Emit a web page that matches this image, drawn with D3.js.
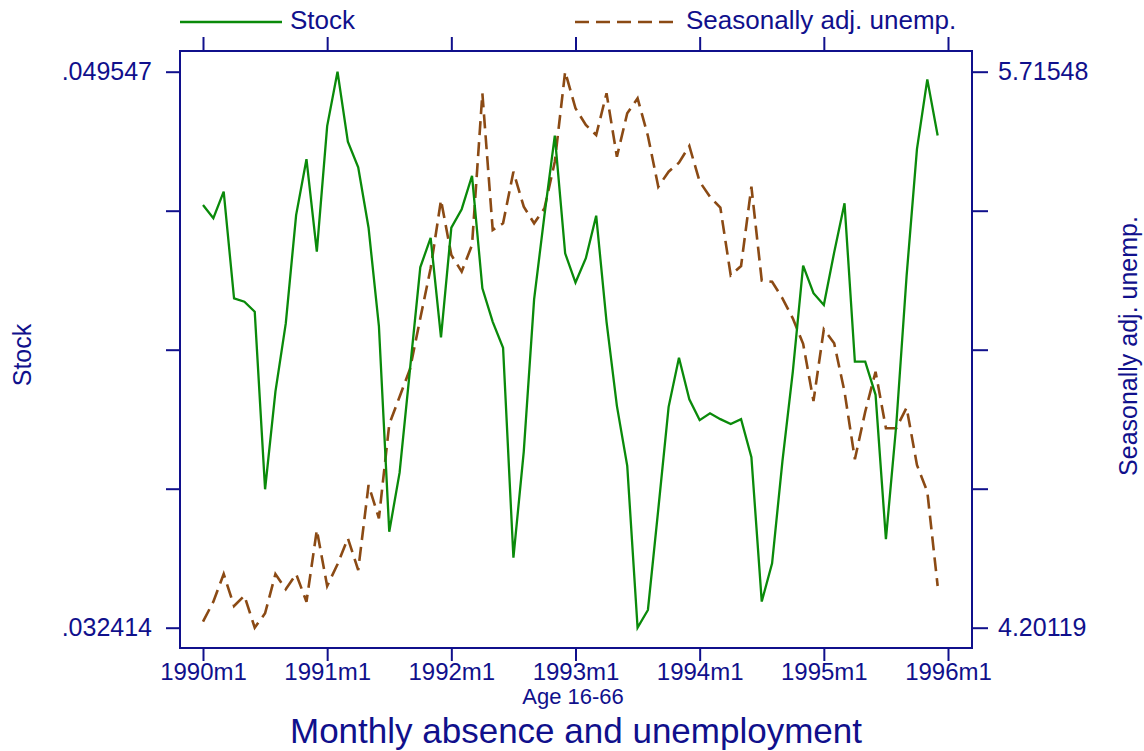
<!DOCTYPE html>
<html>
<head>
<meta charset="utf-8">
<script src="https://cdn.jsdelivr.net/npm/d3@7"></script>
<style>
  body { margin: 0; background: #fff; }
  text { font-family: "Liberation Sans", Arial, sans-serif; }
</style>
</head>
<body>
<div id="chart"></div>
<script>
// months 1990m1 .. 1995m12 (index 0..71)
var years = [1990, 1991, 1992, 1993, 1994, 1995, 1996];

var stock = [
  .04544, .04503, .04585, .04256, .04246, .04215, .03668, .03969, .04179, .04513, .04685, .04400,
  .04787, .049547, .04739, .04660, .04474, .04171, .03537, .03719, .04036, .04352, .04443, .04136,
  .04474, .04531, .04634, .04287, .04184, .04104, .03457, .03784, .04253, .04513, .04758, .04395,
  .04305, .04380, .04511, .04184, .03925, .03740, .032414, .03296, .03606, .03922, .04073, .03945,
  .03881, .03902, .03884, .03869, .03884, .03767, .03322, .03440, .03755, .04030, .04357, .04272,
  .04236, .04398, .04549, .04061, .04061, .03959, .03514, .03866, .04326, .04716, .04931, .04758
];

var unemp = [
  4.2175, 4.2720, 4.3475, 4.2603, 4.2884, 4.20119, 4.2404, 4.3475, 4.3058, 4.3475, 4.2720, 4.4673,
  4.3148, 4.3739, 4.4447, 4.3583, 4.5898, 4.4992, 4.7552, 4.8303, 4.9050, 5.0438, 5.1800, 5.3660,
  5.2162, 5.1708, 5.2435, 5.6566, 5.2843, 5.3026, 5.4431, 5.3478, 5.3026, 5.3434, 5.4704, 5.71548,
  5.6158, 5.5703, 5.5431, 5.6566, 5.4840, 5.6022, 5.6430, 5.5403, 5.4023, 5.4431, 5.4676, 5.5131,
  5.4159, 5.3750, 5.3451, 5.1610, 5.1863, 5.4023, 5.1463, 5.1435, 5.0983, 5.0438, 4.9744, 4.8186,
  5.0139, 4.9758, 4.8439, 4.6598, 4.7895, 4.8984, 4.7443, 4.7443, 4.8004, 4.6443, 4.5716, 4.3148
];

var svgWidth = 1144;
var svgHeight = 751;
var frame = { left: 180, right: 972, top: 51, bottom: 648 };
var navy = "#10108c";
var green = "#0a8a0a";
var brown = "#8b4a14";
var fontSize = 25;

var svg = d3.select("#chart")
  .append("svg")
  .attr("width", svgWidth)
  .attr("height", svgHeight);

// scales
var xScale = d3.scaleLinear()
  .domain([0, 72])
  .range([203, 948]);

var yStock = d3.scaleLinear()
  .domain([d3.min(stock), d3.max(stock)])
  .range([627.7, 71.7]);

var yUnemp = d3.scaleLinear()
  .domain([d3.min(unemp), d3.max(unemp)])
  .range([627.7, 71.7]);

// frame
svg.append("rect")
  .attr("x", frame.left)
  .attr("y", frame.top)
  .attr("width", frame.right - frame.left)
  .attr("height", frame.bottom - frame.top)
  .attr("fill", "none")
  .attr("stroke", navy)
  .attr("stroke-width", 2);

function styleAxis(g) {
  g.select(".domain").remove();
  g.selectAll("line").attr("stroke", navy).attr("stroke-width", 2);
  g.selectAll("text")
    .attr("fill", navy)
    .style("font-size", fontSize + "px")
    .style("font-family", "Liberation Sans, Arial, sans-serif");
}

var yearTicks = years.map(function(y, i) { return i * 12; });

// bottom axis
var bottomAxis = d3.axisBottom(xScale)
  .tickValues(yearTicks)
  .tickSize(13)
  .tickPadding(2)
  .tickFormat(function(d) { return years[d / 12] + "m1"; });
svg.append("g")
  .attr("transform", `translate(0, ${frame.bottom})`)
  .call(bottomAxis)
  .call(styleAxis)
  .selectAll("text")
  .style("font-size", "24px");

// top axis (ticks only)
var topAxis = d3.axisTop(xScale)
  .tickValues(yearTicks)
  .tickSize(14)
  .tickFormat("");
svg.append("g")
  .attr("transform", `translate(0, ${frame.top})`)
  .call(topAxis)
  .call(styleAxis);

// left axis: min/max labelled, five ticks
var sMin = d3.min(stock), sMax = d3.max(stock);
var stockTicks = d3.range(5).map(function(i) { return sMin + i * (sMax - sMin) / 4; });
var leftAxis = d3.axisLeft(yStock)
  .tickValues(stockTicks)
  .tickSize(14)
  .tickPadding(14)
  .tickFormat(function(d, i) {
    return (i === 0 || i === 4) ? d3.format(".6f")(d).replace(/^0/, "") : "";
  });
svg.append("g")
  .attr("transform", `translate(${frame.left}, 0)`)
  .call(leftAxis)
  .call(styleAxis);

var uMin = d3.min(unemp), uMax = d3.max(unemp);
var unempTicks = d3.range(5).map(function(i) { return uMin + i * (uMax - uMin) / 4; });
var rightAxis = d3.axisRight(yUnemp)
  .tickValues(unempTicks)
  .tickSize(16)
  .tickPadding(10)
  .tickFormat(function(d, i) {
    return (i === 0 || i === 4) ? d3.format(".5f")(d) : "";
  });
svg.append("g")
  .attr("transform", `translate(${frame.right}, 0)`)
  .call(rightAxis)
  .call(styleAxis);

// lines
var stockLine = d3.line()
  .x(function(d, i) { return xScale(i); })
  .y(function(d) { return yStock(d); });

var unempLine = d3.line()
  .x(function(d, i) { return xScale(i); })
  .y(function(d) { return yUnemp(d); });

svg.append("path")
  .datum(unemp)
  .attr("d", unempLine)
  .attr("fill", "none")
  .attr("stroke", brown)
  .attr("stroke-width", 2.6)
  .attr("stroke-dasharray", "14,7");

svg.append("path")
  .datum(stock)
  .attr("d", stockLine)
  .attr("fill", "none")
  .attr("stroke", green)
  .attr("stroke-width", 2.3);

// axis titles
svg.append("text")
  .attr("transform", "translate(31, 355) rotate(-90)")
  .attr("text-anchor", "middle")
  .attr("fill", navy)
  .style("font-size", fontSize + "px")
  .text("Stock");

svg.append("text")
  .attr("transform", "translate(1137, 346) rotate(-90)")
  .attr("text-anchor", "middle")
  .attr("fill", navy)
  .style("font-size", fontSize + "px")
  .text("Seasonally adj. unemp.");

svg.append("text")
  .attr("x", 573)
  .attr("y", 704)
  .attr("text-anchor", "middle")
  .attr("fill", navy)
  .style("font-size", "22px")
  .text("Age 16-66");

svg.append("text")
  .attr("x", 576)
  .attr("y", 743)
  .attr("text-anchor", "middle")
  .attr("fill", navy)
  .style("font-size", "35px")
  .text("Monthly absence and unemployment");

// legend
var legend = svg.append("g");
legend.append("line")
  .attr("x1", 180).attr("x2", 282)
  .attr("y1", 22).attr("y2", 22)
  .attr("stroke", green)
  .attr("stroke-width", 2.3);
legend.append("text")
  .attr("x", 290).attr("y", 29)
  .attr("fill", navy)
  .style("font-size", "26px")
  .text("Stock");
legend.append("line")
  .attr("x1", 575).attr("x2", 680)
  .attr("y1", 22).attr("y2", 22)
  .attr("stroke", brown)
  .attr("stroke-width", 2.6)
  .attr("stroke-dasharray", "14,7");
legend.append("text")
  .attr("x", 686).attr("y", 29)
  .attr("fill", navy)
  .style("font-size", "26px")
  .text("Seasonally adj. unemp.");
</script>
</body>
</html>
